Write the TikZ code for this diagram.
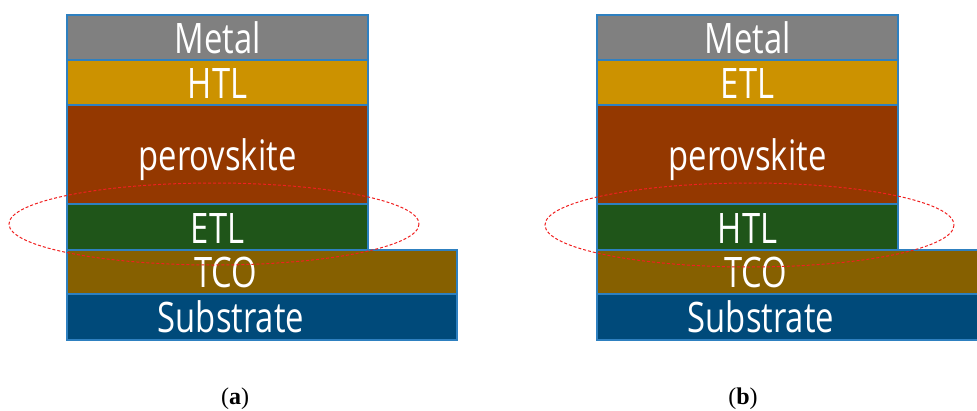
\documentclass[tikz,border=0pt]{standalone}
\usepackage{fontspec}
\newfontfamily\layerfont[FakeStretch=0.78]{Open Sans}
\newfontfamily\capfont{Liberation Serif}
\definecolor{metalgray}{HTML}{808080}
\definecolor{transgold}{HTML}{CC9200}
\definecolor{perobrown}{HTML}{943800}
\definecolor{transgreen}{HTML}{1F5519}
\definecolor{tcobrown}{HTML}{866000}
\definecolor{subblue}{HTML}{004A7A}
\definecolor{edgeblue}{HTML}{2E80C0}
\definecolor{ringred}{HTML}{F02020}
\tikzset{
  layer/.style={draw=edgeblue, line width=1.3pt},
  layertext/.style={text=white, font=\layerfont\fontsize{42}{42}\selectfont, anchor=base, inner sep=0pt},
  ring/.style={draw=ringred, line width=1pt, dash pattern=on 3pt off 2pt},
  panellabel/.style={font=\capfont\fontsize{24}{24}\selectfont, anchor=base, inner sep=0pt}
}
\begin{document}
\begin{tikzpicture}[x=1pt,y=-1pt]
\useasboundingbox (0,0) rectangle (977,410);
% two device stacks: (a) regular, (b) inverted
\foreach \dx/\p/\upper/\lower in {0/a/HTL/ETL, 530/b/ETL/HTL}{
  \begin{scope}[xshift=\dx pt]
  \draw[layer, fill=subblue]   (67,294) rectangle (457,340);
  \draw[layer, fill=tcobrown]  (67,250) rectangle (457,294);
  \draw[layer, fill=transgreen](67,204) rectangle (368,250);
  \draw[layer, fill=perobrown] (67,105) rectangle (368,204);
  \draw[layer, fill=transgold] (67,60)  rectangle (368,105);
  \draw[layer, fill=metalgray] (67,15)  rectangle (368,60);
  \node[layertext] (metal-\p) at (217.5,53) {Metal};
  \node[layertext] (top-\p) at (217.5,98) {\upper};
  \node[layertext] (pero-\p) at (217.5,170) {perovskite};
  \node[layertext] (low-\p) at (217.5,243) {\lower};
  \node[layertext] (tco-\p) at (226,287) {TCO};
  \node[layertext] (sub-\p) at (231,332) {Substrate};
  \end{scope}
}
% dashed rings marking the lower transport layer
\draw[ring] (214,224) ellipse [x radius=205, y radius=41];
\draw[ring] (749.5,225) ellipse [x radius=204.5, y radius=42];
\node[panellabel] (lab-a) at (235,404) {(\textbf{a})};
\node[panellabel] (lab-b) at (743,404) {(\textbf{b})};
\end{tikzpicture}
\end{document}
